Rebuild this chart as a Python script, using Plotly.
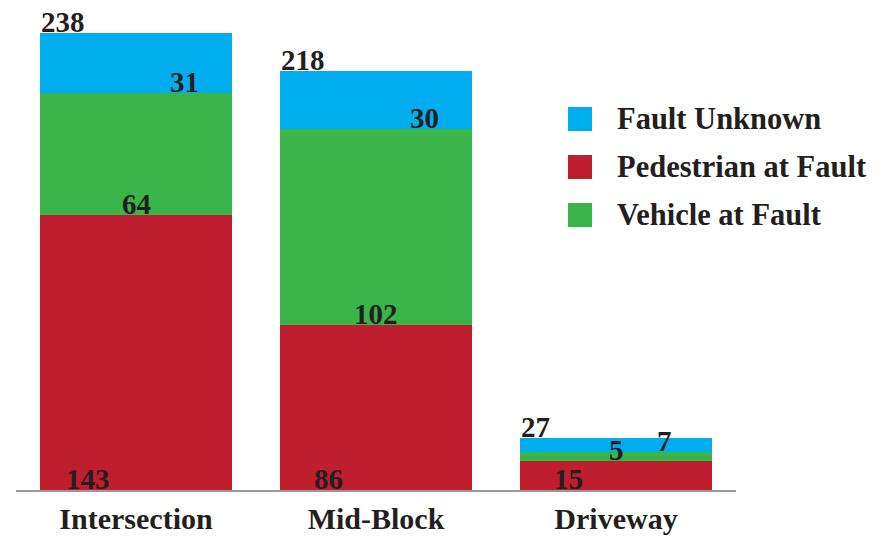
import plotly.graph_objects as go

categories = ["Intersection", "Mid-Block", "Driveway"]
pedestrian = [143, 86, 15]
vehicle = [64, 102, 5]
unknown = [31, 30, 7]
totals = [238, 218, 27]

series_names = ["Pedestrian at Fault", "Vehicle at Fault", "Fault Unknown"]
series_values = [pedestrian, vehicle, unknown]
series_colors = ["#BE1E2D", "#39B54A", "#00AEEF"]
legend_order = ["Fault Unknown", "Pedestrian at Fault", "Vehicle at Fault"]

FONT = "Liberation Serif, Times New Roman, DejaVu Serif, serif"
TXT = "#231F20"
FS = 29      # value labels
FS_TICK = 30
FS_LEG = 30.5

FW, FH = 885, 537

fig = go.Figure()
for name, vals, col in zip(series_names, series_values, series_colors):
    fig.add_trace(go.Bar(x=list(range(len(categories))), y=vals, name=name,
                         marker=dict(color=col, line=dict(width=0)),
                         width=0.8, showlegend=False, hoverinfo="skip"))

annotations = []
for i in range(len(categories)):
    base = 0
    for k, vals in enumerate(series_values):
        annotations.append(dict(x=i - 0.4 + 0.2 * (k + 1), y=base, xref="x", yref="y",
                                text=f"<b>{vals[i]}</b>", showarrow=False,
                                xanchor="center", yanchor="bottom", yshift=-7,
                                font=dict(family=FONT, size=FS, color=TXT)))
        base += vals[i]
    annotations.append(dict(x=i - 0.4, y=totals[i], xref="x", yref="y",
                            text=f"<b>{totals[i]}</b>", showarrow=False,
                            xanchor="left", yanchor="bottom", yshift=-7, xshift=-1,
                            font=dict(family=FONT, size=FS, color=TXT)))

# plot area in page pixels: x 16..736, y 10..490
L, T, W, H = 16, 10, 720, 480
def px(xp): return (xp - L) / W
def py(yp): return (T + H - yp) / H

shapes = []
for j, name in enumerate(legend_order):
    col = series_colors[series_names.index(name)]
    top = 107 + j * 48
    shapes.append(dict(type="rect", xref="paper", yref="paper",
                       x0=px(568), x1=px(592), y0=py(top + 24), y1=py(top),
                       fillcolor=col, line=dict(width=0)))
    annotations.append(dict(x=px(615), y=py(top + 12), xref="paper", yref="paper",
                            text=f"<b>{name}</b>", showarrow=False,
                            xanchor="left", yanchor="middle",
                            font=dict(family=FONT, size=FS_LEG, color=TXT)))

fig.update_layout(
    width=FW, height=FH,
    margin=dict(l=L, r=FW - L - W, t=T, b=FH - T - H),
    paper_bgcolor="white", plot_bgcolor="white",
    barmode="stack", bargap=0.2,
    font=dict(family=FONT),
    xaxis=dict(tickmode="array", tickvals=list(range(len(categories))),
               ticktext=[f"<b>{c}</b>" for c in categories],
               range=[-0.5, 2.5], showgrid=False, zeroline=False,
               showline=True, linecolor="#999999", linewidth=1.5,
               ticks="outside", ticklen=1, tickcolor="rgba(0,0,0,0)",
               automargin=False,
               tickfont=dict(family=FONT, size=FS_TICK, color=TXT)),
    yaxis=dict(range=[0, 250], visible=False, showgrid=False, zeroline=False,
               automargin=False),
    annotations=annotations, shapes=shapes,
)

fig.write_html("out.html", config={"displayModeBar": False},
               post_script="document.body.style.margin='0';document.body.style.overflow='hidden';")
